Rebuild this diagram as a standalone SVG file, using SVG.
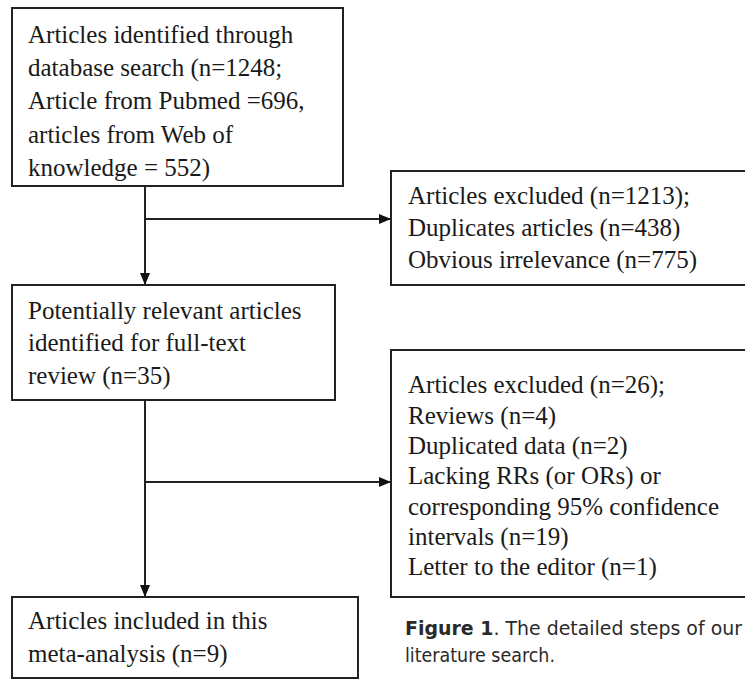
<svg xmlns="http://www.w3.org/2000/svg" width="745" height="679" viewBox="0 0 745 679">
<defs>
<style>
.box{fill:#fff;stroke:#222;stroke-width:2}
.t{font-family:"Liberation Serif","Times New Roman",serif;font-size:25px;fill:#1a1a1a}
.ln{fill:none;stroke:#222;stroke-width:2}
.cap{font-family:"DejaVu Sans","Liberation Sans",Arial,sans-serif;font-size:19px;fill:#2a2a2a}
</style>
<marker id="ah" viewBox="0 0 12 10" refX="12" refY="5" markerWidth="12" markerHeight="10" markerUnits="userSpaceOnUse" orient="auto">
<path d="M0,0 L12,5 L0,10 Z" fill="#111"/>
</marker>
</defs>
<rect width="745" height="679" fill="#fff"/>
<g id="connectors">
<line class="ln" x1="145" y1="186" x2="145" y2="285" marker-end="url(#ah)"/>
<line class="ln" x1="145" y1="219" x2="391" y2="219" marker-end="url(#ah)"/>
<line class="ln" x1="145" y1="400" x2="145" y2="597" marker-end="url(#ah)"/>
<line class="ln" x1="145" y1="482" x2="391" y2="482" marker-end="url(#ah)"/>
</g>
<g id="node-identified">
<rect class="box" x="12" y="8" width="331" height="178"/>
<text class="t" x="28" y="42.5">Articles identified through</text>
<text class="t" x="28" y="76">database search (n=1248;</text>
<text class="t" x="28" y="109">Article from Pubmed =696,</text>
<text class="t" x="28" y="142.5">articles from Web of</text>
<text class="t" x="28" y="176">knowledge = 552)</text>
</g>
<g id="node-excluded1">
<rect class="box" x="391" y="171" width="362" height="114"/>
<text class="t" x="408" y="204">Articles excluded (n=1213);</text>
<text class="t" x="408" y="236">Duplicates articles (n=438)</text>
<text class="t" x="408" y="268">Obvious irrelevance (n=775)</text>
</g>
<g id="node-potential">
<rect class="box" x="12" y="285" width="323" height="115"/>
<text class="t" x="28" y="319">Potentially relevant articles</text>
<text class="t" x="28" y="351">identified for full-text</text>
<text class="t" x="28" y="384">review (n=35)</text>
</g>
<g id="node-excluded2">
<rect class="box" x="391" y="350" width="362" height="247"/>
<text class="t" x="408" y="393">Articles excluded (n=26);</text>
<text class="t" x="408" y="423.5">Reviews (n=4)</text>
<text class="t" x="408" y="454">Duplicated data (n=2)</text>
<text class="t" x="408" y="484">Lacking RRs (or ORs) or</text>
<text class="t" x="408" y="514.5">corresponding 95% confidence</text>
<text class="t" x="408" y="545">intervals (n=19)</text>
<text class="t" x="408" y="575">Letter to the editor (n=1)</text>
</g>
<g id="node-included">
<rect class="box" x="12" y="597" width="346" height="81"/>
<text class="t" x="28" y="629">Articles included in this</text>
<text class="t" x="28" y="662">meta-analysis (n=9)</text>
</g>
<g id="caption">
<text class="cap" x="405" y="635" textLength="337" lengthAdjust="spacingAndGlyphs"><tspan font-weight="bold">Figure 1</tspan>. The detailed steps of our</text>
<text class="cap" x="405" y="662" textLength="150" lengthAdjust="spacingAndGlyphs">literature search.</text>
</g>
</svg>
